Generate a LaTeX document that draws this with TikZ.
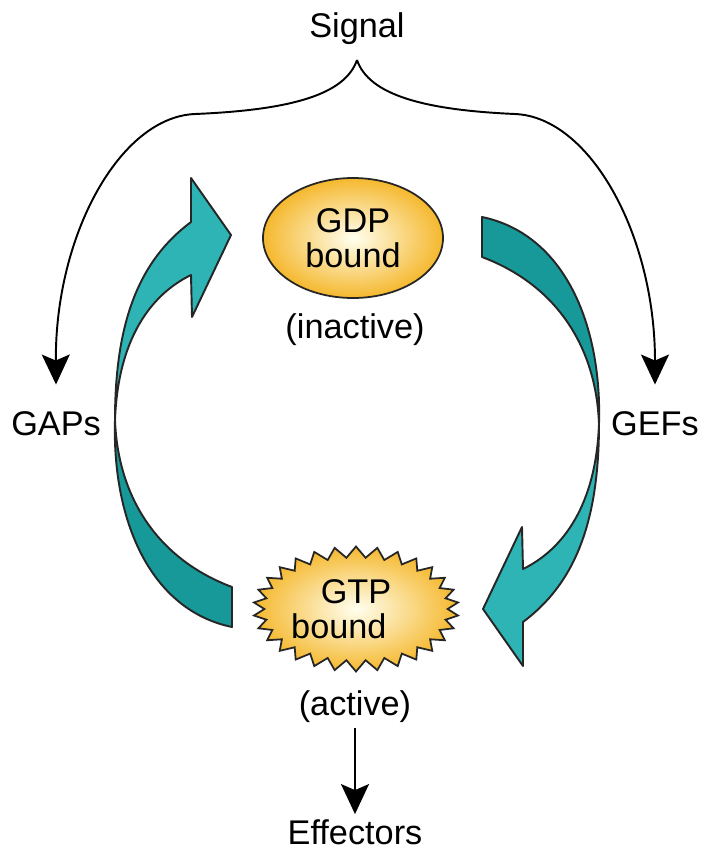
\documentclass[tikz,border=0pt]{standalone}
\usepackage{fontspec}
\setmainfont{Liberation Sans}
\usepackage{xcolor}
\usetikzlibrary{arrows.meta,shapes.geometric,shapes.symbols}

\definecolor{tealLight}{HTML}{2FB4B6}
\definecolor{tealDark}{HTML}{17999A}
\definecolor{gold}{HTML}{F5B82E}

\begin{document}
\begin{tikzpicture}[
      x=0.2mm, y=-0.2mm,
      font=\fontsize{19.5}{20}\selectfont,
      % Reusable styles
      label/.style={inner sep=1mm},
      gdpbox/.style={
        ellipse,
        draw=black!85,
        line width=1pt,
        inner color=yellow!6!white,
        outer color=gold,
        align=center,
        inner sep=0pt,
        minimum width=36mm,
        minimum height=24mm
      },
      gtpbox/.style={
        starburst,
        starburst points=30,
        starburst point height=2.2mm,
        random starburst=0,
        draw=black!85,
        line width=1pt,
        inner color=yellow!6!white,
        outer color=gold,
        align=center,
        inner sep=0pt,
        minimum width=33.5mm,
        minimum height=25mm
      },
      ribbon/.style={draw=black!85, line width=1.1pt, line join=round},
      arrow/.style={-{Stealth[length=6mm, width=5.6mm, inset=1.2mm]}, line width=1.1pt}
    ]
    \useasboundingbox (0,0) rectangle (710,865);

    % Cycle arrows
    \foreach \ang in {0,180}{
      \begin{scope}[rotate around={\ang:(357,422)}]
        \filldraw[ribbon, fill=tealDark] (115,420) .. controls (118,500) and (160,560) .. (232,587)
          -- (232,627) .. controls (150,610) and (112,520) .. cycle;
        \filldraw[ribbon, fill=tealLight] (191,222) .. controls (140,260) and (115,320) .. (115,420)
          .. controls (118,340) and (150,295) .. (191,275) -- (192,317) -- (231,235) -- (191,178) -- cycle;
      \end{scope}
    }

    % Nodes
    \node[label] (signal) at (357,29) {Signal};
    \node[label] (gaps) at (56,424) {GAPs};
    \node[label] (gefs) at (655,424) {GEFs};
    \node[gdpbox] (gdp) at (353,238) {GDP\\bound};
    \node[label] (inactive) at (355,330) {(inactive)};
    \node[gtpbox] (gtp) at (356,609) {GTP\\bound\hspace*{1em}};
    \node[label] (active) at (355,707) {(active)};
    \node[label] (effectors) at (355,832) {Effectors};

    % Edges
    \coordinate (bracetip) at (357,60);
    \draw[arrow] (bracetip) .. controls (345,95) and (290,110) .. (195,114)
      .. controls (120,117) and (55,235) .. ([yshift=4.4mm]gaps.north);
    \draw[arrow] (bracetip) .. controls (369,95) and (424,110) .. (515,114)
      .. controls (590,117) and (655,235) .. ([yshift=4.4mm]gefs.north);
    \draw[arrow] (active) -- (effectors);
  \end{tikzpicture}
\end{document}
